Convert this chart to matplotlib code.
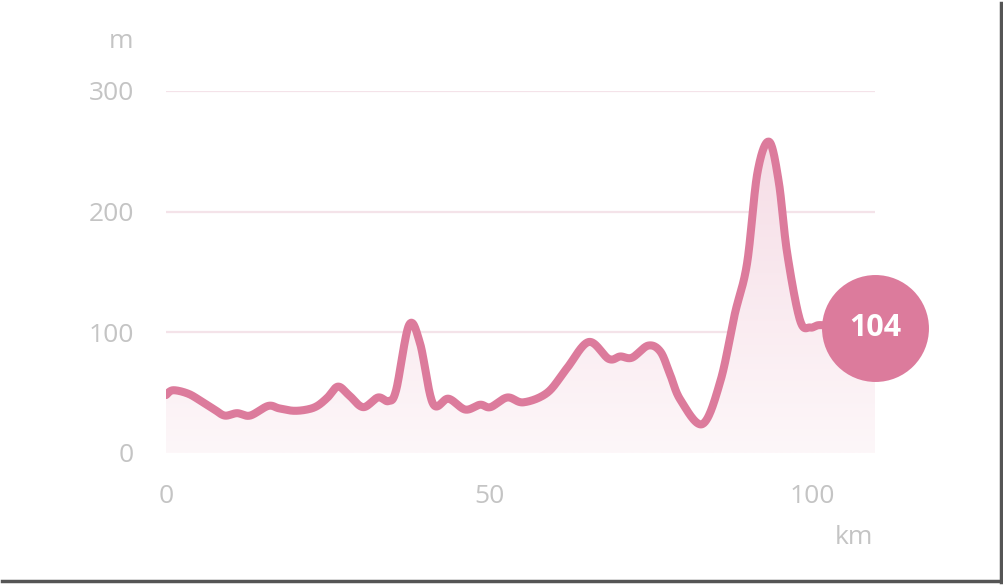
import numpy as np
import matplotlib.pyplot as plt
from matplotlib.lines import Line2D
from matplotlib.colors import LinearSegmentedColormap

# elevation profile
km = [0.0, 1.1, 3.5, 5.7, 7.5, 9.1, 11.0, 13.0, 15.8, 17.5, 19.7, 21.8, 23.4, 25.0,
      26.6, 28.3, 30.5, 32.8, 34.4, 35.6, 37.6, 39.3, 41.3, 43.7, 46.3, 48.6, 50.2,
      52.8, 55.3, 59.0, 62.0, 65.4, 68.5, 70.3, 72.1, 74.6, 76.5, 78.0, 79.6, 83.0,
      85.8, 88.0, 89.9, 91.5, 93.3, 94.8, 96.1, 98.1, 99.7, 101.2, 105.0, 109.7]
elev = [48, 52, 49, 42, 36, 31, 33, 31, 39, 37, 35, 36, 39, 46,
        55, 48, 38, 46, 43, 52, 106, 91, 41, 45, 36, 40, 38,
        46, 42, 50, 70, 92, 78, 80, 79, 89, 84, 65, 44, 24,
        60, 115, 157, 232, 258, 225, 166, 110, 104, 106, 104, 104]

yticks = [0, 100, 200, 300]
xticks = [0, 50, 100]
last_label = "104"

pink = "#dc7b9c"
grid_col = "#f4e3e9"
tick_col = "#c4c4c4"

plt.rcParams['font.family'] = ['Open Sans', 'DejaVu Sans']

fig = plt.figure(figsize=(10.04, 5.85), dpi=100)
W, H = 1004, 585
ax = fig.add_axes([166 / W, 1 - 453 / H, (875 - 166) / W, (453 - 91) / H])


# Catmull-Rom smoothing through the read points
def catmull(x, y, n=30):
    px, py = [], []
    xx = np.concatenate([[x[0]], x, [x[-1]]])
    yy = np.concatenate([[y[0]], y, [y[-1]]])
    for i in range(1, len(xx) - 2):
        t = np.linspace(0, 1, n, endpoint=False)
        for arr, out in ((xx, px), (yy, py)):
            p0, p1, p2, p3 = arr[i - 1], arr[i], arr[i + 1], arr[i + 2]
            out.extend(0.5 * ((2 * p1) + (-p0 + p2) * t + (2 * p0 - 5 * p1 + 4 * p2 - p3) * t ** 2
                              + (-p0 + 3 * p1 - 3 * p2 + p3) * t ** 3))
    px.append(x[-1]); py.append(y[-1])
    return np.array(px), np.array(py)


sx, sy = catmull(np.array(km), np.array(elev, dtype=float))

for t in yticks:
    ax.axhline(t, color=grid_col, lw=1.6, zorder=0)

# gradient fill under the line
grad = LinearSegmentedColormap.from_list("g", ["#fdf7f9", "#f6dde6"])
img = ax.imshow(np.linspace(0, 1, 256).reshape(-1, 1), cmap=grad, aspect="auto",
                extent=[0, km[-1], 0, max(elev)], origin="lower", zorder=1)
poly = ax.fill_between(sx, 0, sy, color="none", lw=0)
img.set_clip_path(poly.get_paths()[0], transform=ax.transData)

ax.plot(sx, sy, color=pink, lw=5.8, solid_capstyle="round", solid_joinstyle="round", zorder=3)

ax.plot([km[-1]], [elev[-1]], "o", ms=77, color=pink, mec="none", clip_on=False, zorder=4)
ax.text(km[-1], elev[-1], last_label, color="white", fontsize=22, fontweight="bold",
        ha="center", va="center", zorder=5)

ax.set_xlim(0, km[-1])
ax.set_ylim(0, 300)
for s in ax.spines.values():
    s.set_visible(False)
ax.set_yticks(yticks)
ax.set_xticks(xticks)
ax.tick_params(length=0, labelsize=19, labelcolor=tick_col)
ax.tick_params(axis="y", pad=23)
ax.tick_params(axis="x", pad=22)

fig.text(133 / W, 1 - 42 / H, "m", color=tick_col, fontsize=19, ha="right", va="center")
fig.text(873 / W, 1 - 537 / H, "km", color=tick_col, fontsize=19, ha="right", va="center")

# screenshot frame
fig.add_artist(Line2D([1001 / W, 1001 / W], [1 - 3 / H, 1 - 582 / H], color="#555555", lw=2.5))
fig.add_artist(Line2D([2 / W, 1002 / W], [1 - 581 / H, 1 - 581 / H], color="#555555", lw=2.5))

fig.savefig("out.png", dpi=100)
